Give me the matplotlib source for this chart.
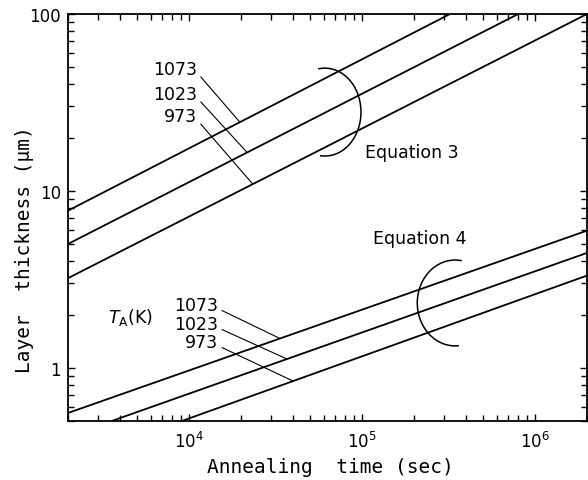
import numpy as np
import matplotlib.pyplot as plt
from matplotlib.patches import Arc
from matplotlib.ticker import NullFormatter

# annealing temperatures (K)
temps = ['1073', '1023', '973']

# Equation 3: end points (time in sec, thickness in um) of each line
eq3_t = [[2.0e3, 3.23e5], [2.0e3, 8.0e5], [2.0e3, 2.0e6]]
eq3_d = [[7.73, 100.0], [5.01, 100.0], [3.21, 100.0]]

# Equation 4
eq4_t = [[2.0e3, 2.0e6], [3.58e3, 2.0e6], [9.1e3, 2.0e6]]
eq4_d = [[0.555, 5.96], [0.5, 4.46], [0.5, 3.32]]

# where the temperature leaders touch the lines (sec)
eq3_lead_t = [1.97e4, 2.17e4, 2.34e4]
eq4_lead_t = [3.36e4, 3.69e4, 4.0e4]

LW = 1.3
mono = 'DejaVu Sans Mono'


def on_line(t, ts, ds):
    # straight line in log-log space through the two end points
    lt = np.log10(ts)
    ld = np.log10(ds)
    return 10 ** np.interp(np.log10(t), lt, ld)


fig = plt.figure(figsize=(5.88, 4.81), dpi=100)
ax = fig.add_axes([68 / 588, 1 - 422 / 481, 519 / 588, 407 / 481])

for ts, ds in zip(eq3_t, eq3_d):
    ax.plot(ts, ds, color='black', lw=LW, solid_capstyle='butt')
for ts, ds in zip(eq4_t, eq4_d):
    ax.plot(ts, ds, color='black', lw=LW, solid_capstyle='butt')

ax.set_xscale('log')
ax.set_yscale('log')
ax.set_xlim(2e3, 2e6)
ax.set_ylim(0.5, 100)

ax.set_yticks([1, 10, 100], labels=['1', '10', '100'])
ax.set_xticks([1e4, 1e5, 1e6])
ax.xaxis.set_minor_formatter(NullFormatter())
ax.yaxis.set_minor_formatter(NullFormatter())
ax.tick_params(which='both', direction='in', top=True, right=True,
               width=1.0, labelsize=12)
ax.tick_params(which='major', length=5)
ax.tick_params(which='minor', length=4)
ax.tick_params(axis='x', pad=7)
ax.tick_params(axis='y', pad=5)
for s in ax.spines.values():
    s.set_linewidth(LW)

ax.set_xlabel('Annealing  time (sec)', family=mono, fontsize=14, va='center')
ax.set_ylabel('Layer  thickness (\u03bcm)', family=mono, fontsize=14, va='center')
ax.xaxis.set_label_coords(0.505, -0.113)
ax.yaxis.set_label_coords(-0.083, 0.423)

# temperature labels with leader lines
eq3_txt_y = [0.865, 0.803, 0.749]
for lab, ty, lt, ts, ds in zip(temps, eq3_txt_y, eq3_lead_t, eq3_t, eq3_d):
    ax.annotate(lab, xy=(lt, on_line(lt, ts, ds)), xycoords='data',
                xytext=(0.2486, ty), textcoords='axes fraction',
                ha='right', va='center', fontsize=12.5,
                arrowprops=dict(arrowstyle='-', lw=0.8, color='black',
                                shrinkA=1, shrinkB=0, relpos=(1.0, 0.3)))

eq4_txt_y = [0.285, 0.238, 0.194]
for lab, ty, lt, ts, ds in zip(temps, eq4_txt_y, eq4_lead_t, eq4_t, eq4_d):
    ax.annotate(lab, xy=(lt, on_line(lt, ts, ds)), xycoords='data',
                xytext=(0.289, ty), textcoords='axes fraction',
                ha='right', va='center', fontsize=12.5,
                arrowprops=dict(arrowstyle='-', lw=0.8, color='black',
                                shrinkA=1, shrinkB=0, relpos=(1.0, 0.3)))

ax.text(0.077, 0.256, r'$T_{\rm A}$(K)', transform=ax.transAxes,
        ha='left', va='center', fontsize=12.5)

# brackets grouping each set of lines
ax.add_patch(Arc((0.495, 0.759), 0.139, 0.216, theta1=-95, theta2=97,
                 transform=ax.transAxes, color='black', lw=1.1))
ax.add_patch(Arc((0.746, 0.290), 0.146, 0.211, theta1=83, theta2=274,
                 transform=ax.transAxes, color='black', lw=1.1))

ax.text(0.572, 0.661, 'Equation 3', transform=ax.transAxes,
        ha='left', va='center', fontsize=12.5)
ax.text(0.588, 0.450, 'Equation 4', transform=ax.transAxes,
        ha='left', va='center', fontsize=12.5)

fig.savefig('out.png', dpi=100)
